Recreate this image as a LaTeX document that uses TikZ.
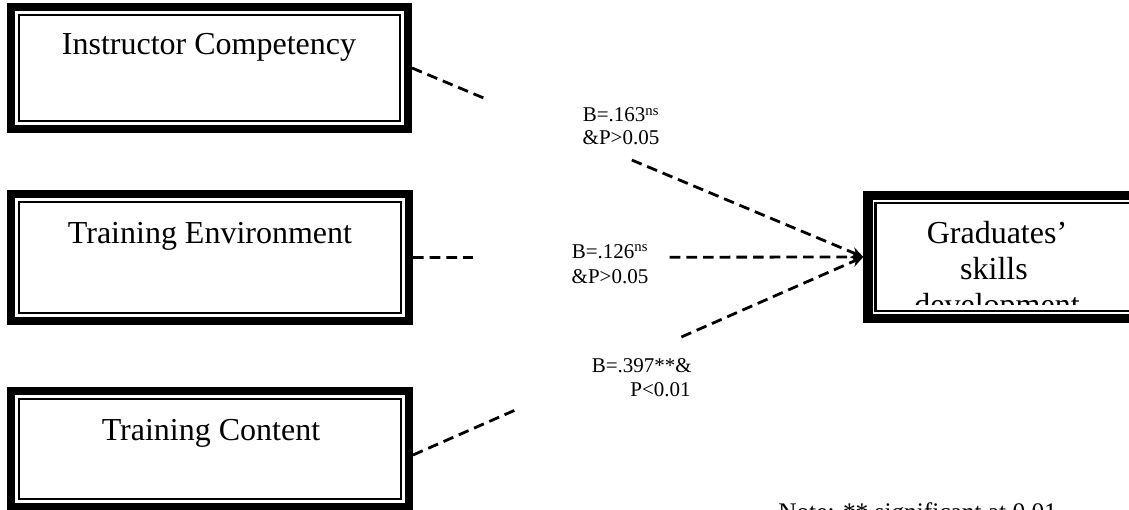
\documentclass[tikz,border=0pt]{standalone}
\usepackage{fontspec}
\setmainfont{Liberation Serif}
\usetikzlibrary{arrows.meta,calc}
\begin{document}
\begin{tikzpicture}[x=0.75pt,y=-0.75pt,
  boxnode/.style={draw, line width=6pt, rectangle, inner sep=0pt},
  innerline/.style={line width=1.9pt},
  boxtext/.style={font=\fontsize{24}{28}\selectfont, anchor=base, inner sep=0pt},
  lbl/.style={font=\fontsize{15.75}{18}\selectfont, anchor=base, inner sep=0pt},
  conn/.style={line width=2.1pt, dash pattern=on 8pt off 4.5pt},
  tip/.style={-{Stealth[length=9pt,width=8pt]}}]
\useasboundingbox (0,0) rectangle (1129,510);
\clip (0,0) rectangle (1129,510);
\fill[white] (0,0) rectangle (1129,510);

% boxes
\node[boxnode, minimum width=297.75pt, minimum height=91.5pt] (ic) at (209.5,68) {};
\node[boxnode, minimum width=298.5pt, minimum height=95.25pt] (te) at (210,257.5) {};
\node[boxnode, minimum width=298.5pt, minimum height=87pt] (tc) at (210,449) {};
\node[boxnode, line width=7pt, minimum width=204pt, minimum height=92.25pt] (gd) at (1004,257) {};

\foreach \n in {ic,te,tc,gd}{
  \draw[innerline] ($(\n.north west)+(12,12)$) rectangle ($(\n.south east)+(-12,-12)$);
}

% box texts
\node[boxtext] (t1) at (209,55) {Instructor Competency};
\node[boxtext] (t2) at (210,243) {Training Environment};
\node[boxtext] (t3) at (211,440) {Training Content};
\begin{scope}
  \clip (878,206) rectangle (1140,304);
  \node[boxtext] (g1) at (997,243) {Graduates’};
  \node[boxtext] (g2) at (994,279) {skills};
  \node[boxtext] (g3) at (997,315) {development};
\end{scope}

% connectors
\coordinate (s3) at ($(tc.east)+(0,6)$);
\path (ic.east) -- coordinate[pos=0.1615](g1a) coordinate[pos=0.487](g1b) (gd.west);
\path (te.east) -- coordinate[pos=0.133](g2a) coordinate[pos=0.570](g2b) (gd.west);
\path (s3) -- coordinate[pos=0.235](g3a) coordinate[pos=0.596](g3b) (gd.west);
\draw[conn] (ic.east) -- (g1a);
\draw[conn,tip] (g1b) -- (gd.west);
\draw[conn] (te.east) -- (g2a);
\draw[conn,tip] (g2b) -- (gd.west);
\draw[conn] (s3) -- (g3a);
\draw[conn,tip] (g3b) -- (gd.west);

% labels
\node[lbl] (l1a) at (621,122) {B=.163\textsuperscript{ns}};
\node[lbl] (l1b) at (621,145) {\&P>0.05};
\node[lbl] (l2a) at (610,258) {B=.126\textsuperscript{ns}};
\node[lbl] (l2b) at (610,283) {\&P>0.05};
\node[lbl,anchor=base east] (l3a) at (692,372) {B=.397**\&};
\node[lbl,anchor=base east] (l3b) at (691,396) {P<0.01};

% note (cut off at the bottom)
\node[font=\fontsize{19}{22}\selectfont, anchor=base west, inner sep=0pt] (note) at (778,520) {Note: ** significant at 0.01};
\end{tikzpicture}
\end{document}
